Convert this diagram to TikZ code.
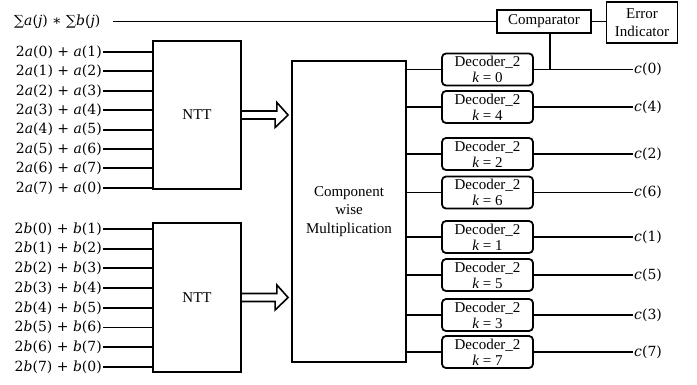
\documentclass[tikz,border=0pt]{standalone}
\usepackage{fontspec}
\setmainfont{Liberation Serif}
\newfontfamily\mathf{DejaVu Serif}
\begin{document}
\begin{tikzpicture}[x=1pt,y=-1pt,
  box/.style={draw, line width=1.8pt, inner sep=0pt, align=center, font=\fontsize{15}{17}\selectfont},
  dec/.style={box, rounded corners=4pt, minimum width=91pt, minimum height=32pt, font=\fontsize{15}{16}\selectfont},
  lab/.style={font=\mathf\fontsize{14}{16}\selectfont, inner sep=1pt},
  wire/.style={line width=1.9pt},
  hollow/.style={line width=1.6pt, line join=miter}]
\useasboundingbox (0,0) rectangle (697,384);

% NTT blocks and multiplier
\node[box, minimum width=88pt, minimum height=148pt] (ntt1) at (197,115) {NTT};
\node[box, minimum width=88pt, minimum height=149pt] (ntt2) at (197,297.5) {NTT};
\node[box, minimum width=114pt, minimum height=301pt, font=\fontsize{15}{18.5}\selectfont] (mul) at (349,211.5) {Component\\wise\\Multiplication};

% inputs a
\foreach \i/\j [count=\n from 0] in {0/1,1/2,2/3,3/4,4/5,5/6,6/7,7/0}{
  \node[lab, anchor=east] (ia\n) at (103,{52+\n*19.4}) {2\textit{a}(\i) + \textit{a}(\j)};
  \draw[wire] (ia\n.east) -- (ia\n.east -| ntt1.west);
}
% inputs b
\foreach \i/\j [count=\n from 0] in {0/1,1/2,2/3,3/4,4/5,5/6,6/7,7/0}{
  \node[lab, anchor=east] (ib\n) at (103,{229+\n*19.7}) {2\textit{b}(\i) + \textit{b}(\j)};
  \draw[wire] (ib\n.east) -- (ib\n.east -| ntt2.west);
}

% hollow arrows
\coordinate (t1) at ([xshift=-3pt]mul.west |- ntt1.east);
\coordinate (t2) at ([xshift=-3pt]mul.west |- ntt2.east);
\draw[hollow] ([yshift=4pt]ntt1.east) -- ++(35,0) -- ++(0,-8.5) -- (t1) -- ++(-13,12.5) -- ++(0,-8.5) -- ([yshift=-4pt]ntt1.east);
\draw[hollow] ([yshift=4pt]ntt2.east) -- ++(35,0) -- ++(0,-8.5) -- (t2) -- ++(-13,12.5) -- ++(0,-8.5) -- ([yshift=-4pt]ntt2.east);

% decoders
\foreach \k/\y [count=\n from 0] in {0/69.5,4/107,2/154,6/192.5,1/237,5/275,3/315,7/352}{
  \node[dec] (d\k) at (487.5,\y) {Decoder\_2\\\textit{k} = \k};
  \draw[wire] (d\k.west -| mul.east) -- (d\k.west);
  \node[lab, anchor=west] (c\k) at (633,\y) {\textit{c}(\k)};
  \draw[wire] (d\k.east) -- (c\k.west);
}

% comparator and error indicator
\node[box, minimum width=94pt, minimum height=23pt] (cmp) at (544,21.5) {Comparator};
\node[box, minimum width=71pt, minimum height=41pt, font=\fontsize{15}{18}\selectfont] (err) at (642,22.5) {Error\\Indicator};
\draw[wire] (cmp.east) -- (err.west |- cmp.east);
\draw[wire] ([xshift=6pt]cmp.south) -- ([xshift=6pt]cmp.south |- d0.east);

\node[lab, anchor=west] (sig) at (13,21.5) {∑\textit{a}(\textit{j}) ∗ ∑\textit{b}(\textit{j})};
\draw[wire] ([xshift=11pt]sig.east) -- (cmp.west);
\end{tikzpicture}
\end{document}
